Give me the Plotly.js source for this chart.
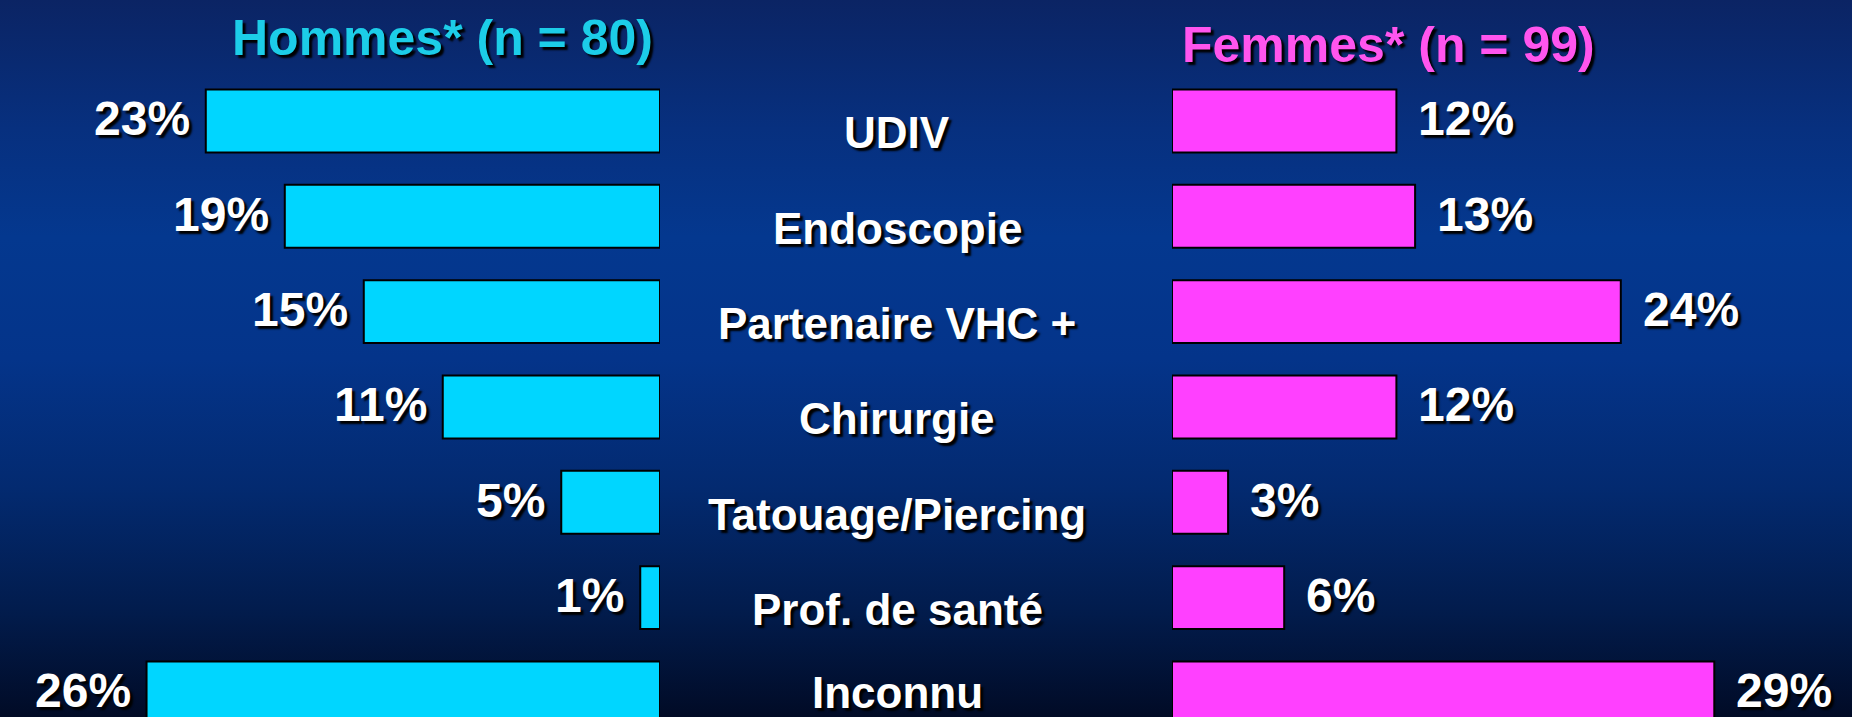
<!DOCTYPE html>
<html>
<head>
<meta charset="utf-8">
<script src="https://cdn.plot.ly/plotly-3.0.1.min.js"></script>
<style>
  html, body { margin: 0; padding: 0; width: 1852px; height: 717px; overflow: hidden; }
  body { background: linear-gradient(to bottom, #0b2464 0%, #07307f 18%, #04388f 33%, #04348a 50%, #032a70 68%, #021c4d 85%, #010b26 100%); }
  #chart { width: 1852px; height: 717px; }
</style>
</head>
<body>
<div id="chart"></div>
<script>
const categories = ["UDIV", "Endoscopie", "Partenaire VHC +", "Chirurgie", "Tatouage/Piercing", "Prof. de santé", "Inconnu"];
const hommes = [23, 19, 15, 11, 5, 1, 26];
const femmes = [12, 13, 24, 12, 3, 6, 29];
const titreHommes = "Hommes* (n = 80)";
const titreFemmes = "Femmes* (n = 99)";

const W = 1852, H = 717;
const FONT = "'Liberation Sans', Arial, Helvetica, sans-serif";
const SHADOW = "3px 3px 2px #000";

const traces = [
  {
    type: "bar", orientation: "h", name: "Hommes",
    y: categories, x: hommes, xaxis: "x", yaxis: "y",
    width: 0.66,
    marker: { color: "#00d6ff", line: { color: "#000000", width: 2 } },
    hoverinfo: "skip"
  },
  {
    type: "bar", orientation: "h", name: "Femmes",
    y: categories, x: femmes, xaxis: "x2", yaxis: "y",
    width: 0.66,
    marker: { color: "#ff40ff", line: { color: "#000000", width: 2 } },
    hoverinfo: "skip"
  }
];

const annotations = [];
categories.forEach((c, i) => {
  const last = i === categories.length - 1;
  annotations.push(last ? {
    xref: "paper", yref: "paper", x: 897 / W, y: 0, yshift: -2,
    text: c, showarrow: false, xanchor: "center", yanchor: "bottom",
    font: { family: FONT, size: 44, color: "#ffffff", weight: 700, shadow: SHADOW }
  } : {
    xref: "paper", yref: "y", x: 897 / W, y: c, yshift: -12,
    text: c, showarrow: false, xanchor: "center", yanchor: "middle",
    font: { family: FONT, size: 44, color: "#ffffff", weight: 700, shadow: SHADOW }
  });
  annotations.push({
    xref: "x", yref: "y", x: hommes[i], y: c, xshift: -14, yshift: 2,
    text: hommes[i] + "%", showarrow: false, xanchor: "right", yanchor: "middle",
    font: { family: FONT, size: 48, color: "#ffffff", weight: 700, shadow: SHADOW }
  });
  annotations.push({
    xref: "x2", yref: "y", x: femmes[i], y: c, xshift: 20, yshift: 2,
    text: femmes[i] + "%", showarrow: false, xanchor: "left", yanchor: "middle",
    font: { family: FONT, size: 48, color: "#ffffff", weight: 700, shadow: SHADOW }
  });
});
annotations.push({
  xref: "paper", yref: "paper", x: 442 / W, y: 1 - 38 / H,
  text: titreHommes, showarrow: false, xanchor: "center", yanchor: "middle",
  font: { family: FONT, size: 50, color: "#1ccde8", weight: 700, shadow: SHADOW }
});
annotations.push({
  xref: "paper", yref: "paper", x: 1388 / W, y: 1 - 45 / H,
  text: titreFemmes, showarrow: false, xanchor: "center", yanchor: "middle",
  font: { family: FONT, size: 50, color: "#ff55ee", weight: 700, shadow: SHADOW }
});

const layout = {
  width: W, height: H,
  margin: { l: 0, r: 0, t: 0, b: 0, pad: 0 },
  paper_bgcolor: "rgba(0,0,0,0)",
  plot_bgcolor: "rgba(0,0,0,0)",
  showlegend: false,
  barmode: "overlay",
  xaxis: {
    domain: [0, 660 / W], range: [33.42, 0], autorange: false,
    visible: false, showgrid: false, zeroline: false, fixedrange: true
  },
  xaxis2: {
    domain: [1172 / W, 1], range: [0, 680 / 18.7], autorange: false,
    visible: false, showgrid: false, zeroline: false, fixedrange: true
  },
  yaxis: {
    type: "category", categoryorder: "array", categoryarray: categories,
    range: [6.252, -1.269], autorange: false,
    visible: false, showgrid: false, zeroline: false, fixedrange: true
  },
  annotations: annotations
};

Plotly.newPlot("chart", traces, layout, { staticPlot: true, displayModeBar: false });
</script>
</body>
</html>
